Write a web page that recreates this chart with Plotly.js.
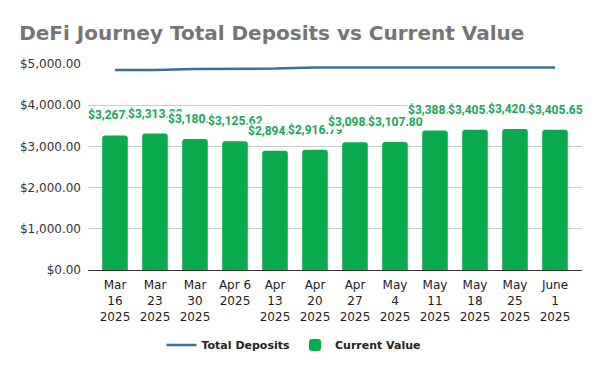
<!DOCTYPE html>
<html>
<head>
<meta charset="utf-8">
<script src="https://cdn.plot.ly/plotly-3.0.1.min.js"></script>
<style>html,body{margin:0;padding:0;background:#fff}#chart{width:600px;height:371px}</style>
</head>
<body>
<div id="chart"></div>
<script>
const categories = ["Mar<br>16<br>2025","Mar<br>23<br>2025","Mar<br>30<br>2025","Apr 6<br>2025","Apr<br>13<br>2025","Apr<br>20<br>2025","Apr<br>27<br>2025","May<br>4<br>2025","May<br>11<br>2025","May<br>18<br>2025","May<br>25<br>2025","June<br>1<br>2025"];
const totalDeposits = [4854, 4854, 4880, 4880, 4890, 4917, 4917, 4917, 4917, 4917, 4917, 4917];
const currentValue = [3267.48, 3313.09, 3180.27, 3125.62, 2894.36, 2916.79, 3098.54, 3107.80, 3388.21, 3405.12, 3420.33, 3405.65];
const valueLabels = ["$3,267.48","$3,313.09","$3,180.27","$3,125.62","$2,894.36","$2,916.79","$3,098.54","$3,107.80","$3,388.21","$3,405.12","$3,420.33","$3,405.65"];

const idx = categories.map((c, i) => i);

const traces = [
  {
    type: 'scatter', mode: 'lines', name: 'Total Deposits',
    x: idx, y: totalDeposits,
    line: {color: '#3d6f94', width: 2.5},
    hoverinfo: 'none'
  },
  {
    type: 'bar', name: 'Current Value',
    x: idx, y: currentValue,
    marker: {color: '#0aab4c', cornerradius: 3},
    hoverinfo: 'none'
  }
];

const annotations = currentValue.map((v, i) => ({
  x: i, y: v, xref: 'x', yref: 'y',
  text: valueLabels[i], showarrow: false,
  xanchor: 'center', yanchor: 'middle', yshift: 20,
  bgcolor: '#ffffff', borderpad: 0,
  font: {family: 'Roboto, sans-serif', size: 12, color: '#1aa55a', weight: 'bold'}
}));

const layout = {
  width: 600, height: 371,
  margin: {l: 88, r: 18, t: 64, b: 101},
  paper_bgcolor: '#ffffff', plot_bgcolor: '#ffffff',
  title: {
    text: 'DeFi Journey Total Deposits vs Current Value',
    x: 0.032, xanchor: 'left', xref: 'container',
    y: 0.91, yanchor: 'middle', yref: 'container',
    font: {family: '"DejaVu Sans", sans-serif', size: 20, color: '#757575', weight: 'bold'}
  },
  showlegend: true,
  legend: {
    orientation: 'h', x: 0.49, xanchor: 'center', xref: 'container',
    y: 0.07, yanchor: 'middle', yref: 'container',
    font: {family: '"DejaVu Sans", sans-serif', size: 11, color: '#222222', weight: 'bold'},
    traceorder: 'normal'
  },
  bargap: 0.36,
  xaxis: {
    range: [-0.675, 11.675],
    tickmode: 'array', tickvals: idx, ticktext: categories,
    showgrid: false, zeroline: false, showline: false,
    ticks: 'outside', ticklen: 4, tickcolor: 'rgba(0,0,0,0)',
    tickfont: {family: '"DejaVu Sans", sans-serif', size: 12, color: '#222222'},
    fixedrange: true
  },
  yaxis: {
    range: [0, 5000], dtick: 1000, tick0: 0,
    tickprefix: '$', tickformat: ',.2f',
    showgrid: true, gridcolor: '#cccccc', gridwidth: 1,
    zeroline: true, zerolinecolor: '#333333', zerolinewidth: 1,
    showline: false, ticks: '', ticklabelstandoff: 6,
    tickfont: {family: '"DejaVu Sans", sans-serif', size: 12, color: '#333333'},
    fixedrange: true
  },
  annotations: annotations
};

Plotly.newPlot('chart', traces, layout, {displayModeBar: false, staticPlot: true});
</script>
</body>
</html>
